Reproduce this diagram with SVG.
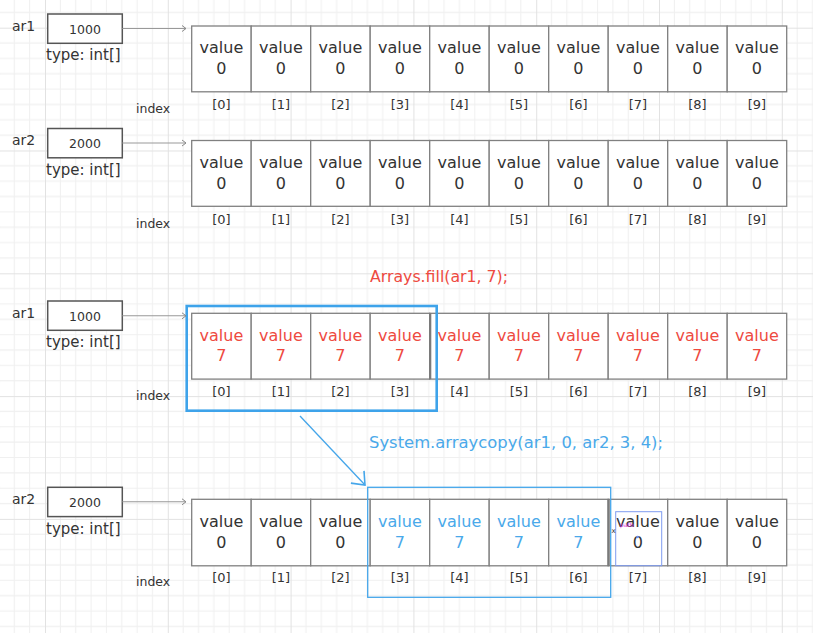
<svg xmlns="http://www.w3.org/2000/svg" width="813" height="633" viewBox="0 0 813 633">
<defs>
<pattern id="grid" x="45" y="273.3" width="122.8" height="122.8" patternUnits="userSpaceOnUse">
<path d="M15.35,0V122.8M30.7,0V122.8M46.05,0V122.8M61.4,0V122.8M76.75,0V122.8M92.1,0V122.8M107.45,0V122.8M0,15.35H122.8M0,30.7H122.8M0,46.05H122.8M0,61.4H122.8M0,76.75H122.8M0,92.1H122.8M0,107.45H122.8" stroke="#f0f0f0" stroke-width="1" fill="none"/>
<path d="M0.5,0V122.8M0,0.5H122.8" stroke="#e2e2e2" stroke-width="1" fill="none"/>
</pattern>
<marker id="ga" markerUnits="userSpaceOnUse" markerWidth="10" markerHeight="10" viewBox="-6 -5 8 10" refX="0" refY="0" orient="auto">
<path d="M-4,-3L0,0L-4,3" fill="none" stroke="#888" stroke-width="1"/>
</marker>
<marker id="ba" markerUnits="userSpaceOnUse" markerWidth="20" markerHeight="24" viewBox="-14 -12 16 24" refX="0" refY="0" orient="auto">
<path d="M-11,-9L0,0L-11,9" fill="none" stroke="#45a6ea" stroke-width="1.6"/>
</marker>
</defs>
<style>
text{font-family:"DejaVu Sans","Liberation Sans",sans-serif;fill:#333}
.lbl{font-size:14px}
.num{font-size:12.5px;text-anchor:middle}
.typ{font-size:15px}
.box{fill:#fff;stroke:#555;stroke-width:1.5}
.cell{fill:#fff;stroke:#808080;stroke-width:1.3}
.v{font-size:16px;text-anchor:middle}
.ix{font-size:13px;text-anchor:middle}
.idx{font-size:12.5px}
.red{fill:#ee4a3f}
.blue{fill:#4aa9ea}
.sep{stroke:#7a7a7a;stroke-width:2.2}
.conn{fill:none;stroke:#999;stroke-width:1.1}
</style>
<rect width="813" height="633" fill="#fff"/>
<rect width="813" height="633" fill="url(#grid)"/>

<g id="ar1-top">
<text class="lbl" x="12" y="31">ar1</text>
<rect class="box" x="47.7" y="14" width="74.6" height="29.3"/>
<text class="num" x="85" y="33.5">1000</text>
<text class="typ" x="46" y="60">type: int[]</text>
</g>
<g id="array1-top">
<rect class="cell" x="191.7" y="26" width="59.5" height="65.8"/>
<rect class="cell" x="251.2" y="26" width="59.5" height="65.8"/>
<rect class="cell" x="310.7" y="26" width="59.5" height="65.8"/>
<rect class="cell" x="370.2" y="26" width="59.5" height="65.8"/>
<rect class="cell" x="429.7" y="26" width="59.5" height="65.8"/>
<rect class="cell" x="489.2" y="26" width="59.5" height="65.8"/>
<rect class="cell" x="548.7" y="26" width="59.5" height="65.8"/>
<rect class="cell" x="608.2" y="26" width="59.5" height="65.8"/>
<rect class="cell" x="667.7" y="26" width="59.5" height="65.8"/>
<rect class="cell" x="727.2" y="26" width="59.5" height="65.8"/>
<text class="v" x="221.45" y="53.3">value</text><text class="v" x="221.45" y="74">0</text>
<text class="v" x="280.95" y="53.3">value</text><text class="v" x="280.95" y="74">0</text>
<text class="v" x="340.45" y="53.3">value</text><text class="v" x="340.45" y="74">0</text>
<text class="v" x="399.95" y="53.3">value</text><text class="v" x="399.95" y="74">0</text>
<text class="v" x="459.45" y="53.3">value</text><text class="v" x="459.45" y="74">0</text>
<text class="v" x="518.95" y="53.3">value</text><text class="v" x="518.95" y="74">0</text>
<text class="v" x="578.45" y="53.3">value</text><text class="v" x="578.45" y="74">0</text>
<text class="v" x="637.95" y="53.3">value</text><text class="v" x="637.95" y="74">0</text>
<text class="v" x="697.45" y="53.3">value</text><text class="v" x="697.45" y="74">0</text>
<text class="v" x="756.95" y="53.3">value</text><text class="v" x="756.95" y="74">0</text>
<text class="idx" x="136" y="113">index</text>
<text class="ix" x="221.45" y="109">[0]</text><text class="ix" x="280.95" y="109">[1]</text><text class="ix" x="340.45" y="109">[2]</text><text class="ix" x="399.95" y="109">[3]</text><text class="ix" x="459.45" y="109">[4]</text><text class="ix" x="518.95" y="109">[5]</text><text class="ix" x="578.45" y="109">[6]</text><text class="ix" x="637.95" y="109">[7]</text><text class="ix" x="697.45" y="109">[8]</text><text class="ix" x="756.95" y="109">[9]</text>
</g>

<g id="ar2-top">
<text class="lbl" x="12" y="145">ar2</text>
<rect class="box" x="47.7" y="128.5" width="74.6" height="29.3"/>
<text class="num" x="85" y="148">2000</text>
<text class="typ" x="46" y="175">type: int[]</text>
</g>
<g id="array2-top">
<rect class="cell" x="191.7" y="140.5" width="59.5" height="65.8"/>
<rect class="cell" x="251.2" y="140.5" width="59.5" height="65.8"/>
<rect class="cell" x="310.7" y="140.5" width="59.5" height="65.8"/>
<rect class="cell" x="370.2" y="140.5" width="59.5" height="65.8"/>
<rect class="cell" x="429.7" y="140.5" width="59.5" height="65.8"/>
<rect class="cell" x="489.2" y="140.5" width="59.5" height="65.8"/>
<rect class="cell" x="548.7" y="140.5" width="59.5" height="65.8"/>
<rect class="cell" x="608.2" y="140.5" width="59.5" height="65.8"/>
<rect class="cell" x="667.7" y="140.5" width="59.5" height="65.8"/>
<rect class="cell" x="727.2" y="140.5" width="59.5" height="65.8"/>
<text class="v" x="221.45" y="167.8">value</text><text class="v" x="221.45" y="188.5">0</text>
<text class="v" x="280.95" y="167.8">value</text><text class="v" x="280.95" y="188.5">0</text>
<text class="v" x="340.45" y="167.8">value</text><text class="v" x="340.45" y="188.5">0</text>
<text class="v" x="399.95" y="167.8">value</text><text class="v" x="399.95" y="188.5">0</text>
<text class="v" x="459.45" y="167.8">value</text><text class="v" x="459.45" y="188.5">0</text>
<text class="v" x="518.95" y="167.8">value</text><text class="v" x="518.95" y="188.5">0</text>
<text class="v" x="578.45" y="167.8">value</text><text class="v" x="578.45" y="188.5">0</text>
<text class="v" x="637.95" y="167.8">value</text><text class="v" x="637.95" y="188.5">0</text>
<text class="v" x="697.45" y="167.8">value</text><text class="v" x="697.45" y="188.5">0</text>
<text class="v" x="756.95" y="167.8">value</text><text class="v" x="756.95" y="188.5">0</text>
<text class="idx" x="136" y="227.5">index</text>
<text class="ix" x="221.45" y="223.5">[0]</text><text class="ix" x="280.95" y="223.5">[1]</text><text class="ix" x="340.45" y="223.5">[2]</text><text class="ix" x="399.95" y="223.5">[3]</text><text class="ix" x="459.45" y="223.5">[4]</text><text class="ix" x="518.95" y="223.5">[5]</text><text class="ix" x="578.45" y="223.5">[6]</text><text class="ix" x="637.95" y="223.5">[7]</text><text class="ix" x="697.45" y="223.5">[8]</text><text class="ix" x="756.95" y="223.5">[9]</text>
</g>

<g id="fill-label">
<text class="red" x="370" y="282" font-size="15.5" textLength="138" lengthAdjust="spacingAndGlyphs">Arrays.fill(ar1, 7);</text>
</g>

<g id="ar1-bottom">
<text class="lbl" x="12" y="318">ar1</text>
<rect class="box" x="47.7" y="301" width="74.6" height="29.3"/>
<text class="num" x="85" y="320.5">1000</text>
<text class="typ" x="46" y="347">type: int[]</text>
</g>
<g id="array1-bottom">
<rect class="cell" x="191.7" y="313.3" width="59.5" height="65.8"/>
<rect class="cell" x="251.2" y="313.3" width="59.5" height="65.8"/>
<rect class="cell" x="310.7" y="313.3" width="59.5" height="65.8"/>
<rect class="cell" x="370.2" y="313.3" width="59.5" height="65.8"/>
<rect class="cell" x="429.7" y="313.3" width="59.5" height="65.8"/>
<rect class="cell" x="489.2" y="313.3" width="59.5" height="65.8"/>
<rect class="cell" x="548.7" y="313.3" width="59.5" height="65.8"/>
<rect class="cell" x="608.2" y="313.3" width="59.5" height="65.8"/>
<rect class="cell" x="667.7" y="313.3" width="59.5" height="65.8"/>
<rect class="cell" x="727.2" y="313.3" width="59.5" height="65.8"/>
<line class="sep" x1="430.2" y1="313.3" x2="430.2" y2="379.1"/>
<text class="v red" x="221.45" y="340.6">value</text><text class="v red" x="221.45" y="361.3">7</text>
<text class="v red" x="280.95" y="340.6">value</text><text class="v red" x="280.95" y="361.3">7</text>
<text class="v red" x="340.45" y="340.6">value</text><text class="v red" x="340.45" y="361.3">7</text>
<text class="v red" x="399.95" y="340.6">value</text><text class="v red" x="399.95" y="361.3">7</text>
<text class="v red" x="459.45" y="340.6">value</text><text class="v red" x="459.45" y="361.3">7</text>
<text class="v red" x="518.95" y="340.6">value</text><text class="v red" x="518.95" y="361.3">7</text>
<text class="v red" x="578.45" y="340.6">value</text><text class="v red" x="578.45" y="361.3">7</text>
<text class="v red" x="637.95" y="340.6">value</text><text class="v red" x="637.95" y="361.3">7</text>
<text class="v red" x="697.45" y="340.6">value</text><text class="v red" x="697.45" y="361.3">7</text>
<text class="v red" x="756.95" y="340.6">value</text><text class="v red" x="756.95" y="361.3">7</text>
<text class="idx" x="136" y="400.3">index</text>
<text class="ix" x="221.45" y="396.3">[0]</text><text class="ix" x="280.95" y="396.3">[1]</text><text class="ix" x="340.45" y="396.3">[2]</text><text class="ix" x="399.95" y="396.3">[3]</text><text class="ix" x="459.45" y="396.3">[4]</text><text class="ix" x="518.95" y="396.3">[5]</text><text class="ix" x="578.45" y="396.3">[6]</text><text class="ix" x="637.95" y="396.3">[7]</text><text class="ix" x="697.45" y="396.3">[8]</text><text class="ix" x="756.95" y="396.3">[9]</text>
</g>
<g id="source-highlight">
<rect x="186.7" y="306" width="250" height="104.7" fill="none" stroke="#3ea3ea" stroke-width="2.6"/>
</g>

<g id="copy-label">
<text class="blue" x="369" y="448" font-size="15.5" textLength="294" lengthAdjust="spacingAndGlyphs">System.arraycopy(ar1, 0, ar2, 3, 4);</text>
</g>

<g id="ar2-bottom">
<text class="lbl" x="12" y="504">ar2</text>
<rect class="box" x="47.7" y="487.3" width="74.6" height="29.3"/>
<text class="num" x="85" y="506.8">2000</text>
<text class="typ" x="46" y="533.5">type: int[]</text>
</g>
<g id="array2-bottom">
<rect class="cell" x="191.7" y="499.3" width="59.5" height="66.5"/>
<rect class="cell" x="251.2" y="499.3" width="59.5" height="66.5"/>
<rect class="cell" x="310.7" y="499.3" width="59.5" height="66.5"/>
<rect class="cell" x="370.2" y="499.3" width="59.5" height="66.5"/>
<rect class="cell" x="429.7" y="499.3" width="59.5" height="66.5"/>
<rect class="cell" x="489.2" y="499.3" width="59.5" height="66.5"/>
<rect class="cell" x="548.7" y="499.3" width="59.5" height="66.5"/>
<rect class="cell" x="608.2" y="499.3" width="59.5" height="66.5"/>
<rect class="cell" x="667.7" y="499.3" width="59.5" height="66.5"/>
<rect class="cell" x="727.2" y="499.3" width="59.5" height="66.5"/>
<line class="sep" x1="608.7" y1="499.3" x2="608.7" y2="565.8"/>
<text class="v" x="221.45" y="527">value</text><text class="v" x="221.45" y="547.7">0</text>
<text class="v" x="280.95" y="527">value</text><text class="v" x="280.95" y="547.7">0</text>
<text class="v" x="340.45" y="527">value</text><text class="v" x="340.45" y="547.7">0</text>
<text class="v blue" x="399.95" y="527">value</text><text class="v blue" x="399.95" y="547.7">7</text>
<text class="v blue" x="459.45" y="527">value</text><text class="v blue" x="459.45" y="547.7">7</text>
<text class="v blue" x="518.95" y="527">value</text><text class="v blue" x="518.95" y="547.7">7</text>
<text class="v blue" x="578.45" y="527">value</text><text class="v blue" x="578.45" y="547.7">7</text>
<text class="v" x="637.95" y="527">value</text><text class="v" x="637.95" y="547.7">0</text>
<text class="v" x="697.45" y="527">value</text><text class="v" x="697.45" y="547.7">0</text>
<text class="v" x="756.95" y="527">value</text><text class="v" x="756.95" y="547.7">0</text>
<text class="idx" x="136" y="586.3">index</text>
<text class="ix" x="221.45" y="582.3">[0]</text><text class="ix" x="280.95" y="582.3">[1]</text><text class="ix" x="340.45" y="582.3">[2]</text><text class="ix" x="399.95" y="582.3">[3]</text><text class="ix" x="459.45" y="582.3">[4]</text><text class="ix" x="518.95" y="582.3">[5]</text><text class="ix" x="578.45" y="582.3">[6]</text><text class="ix" x="637.95" y="582.3">[7]</text><text class="ix" x="697.45" y="582.3">[8]</text><text class="ix" x="756.95" y="582.3">[9]</text>
</g>
<g id="target-highlight">
<rect x="367.7" y="487.3" width="243" height="110" fill="none" stroke="#45a6ea" stroke-width="1.3"/>
</g>
<g id="cell7-mark">
<rect x="615.7" y="511.7" width="46" height="54" fill="none" stroke="#7f9cf0" stroke-width="1"/>
<text x="611.5" y="533" font-size="7" style="fill:#333">x</text>
<text x="620" y="526.5" font-size="6" style="fill:#e040e0">path</text>
<circle cx="637.5" cy="537" r="1.3" fill="#6a8ff0"/>
</g>

<g id="connectors">
<line class="conn" x1="122.3" y1="28.5" x2="186" y2="28.5" marker-end="url(#ga)"/>
<line class="conn" x1="122.3" y1="143" x2="186" y2="143" marker-end="url(#ga)"/>
<line class="conn" x1="122.3" y1="315.8" x2="186" y2="315.8" marker-end="url(#ga)"/>
<line class="conn" x1="122.3" y1="501.8" x2="186" y2="501.8" marker-end="url(#ga)"/>
<line x1="300" y1="416" x2="365" y2="485" fill="none" stroke="#45a6ea" stroke-width="1.3" marker-end="url(#ba)"/>
</g>
</svg>
